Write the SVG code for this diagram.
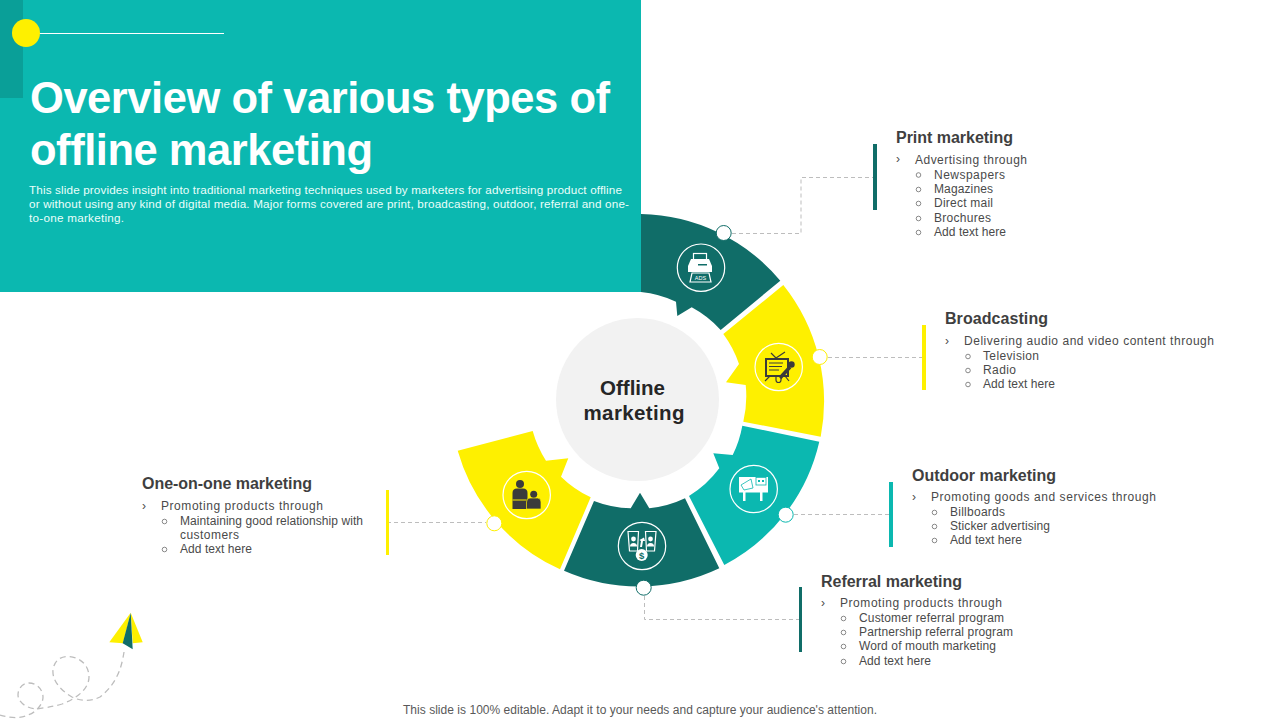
<svg xmlns="http://www.w3.org/2000/svg" width="1280" height="720" viewBox="0 0 1280 720">
<style>
text{font-family:"Liberation Sans",Arial,sans-serif}
.h{font-size:16px;font-weight:700;fill:#3f3f3f}
.b{font-size:12px;fill:#4a4a4a}
.o{fill:none;stroke:#595959;stroke-width:.7}
.d{font-size:11.7px;fill:#eafffb}
.c{fill:none;stroke:#bdbdbd;stroke-width:1;stroke-dasharray:4 3}
.ring{fill:none;stroke:#fff;stroke-width:1.2}
.w{fill:#fff}.wl{fill:none;stroke:#fff;stroke-width:1.2}
.k{fill:#3b3b3b}.kl{fill:none;stroke:#3b3b3b;stroke-width:1.2}
</style>
<rect width="1280" height="720" fill="#fff"/>
<g id="wheel-segments">
<path d="M641 214.100A186.500 186.500 0 0 1 780.300 280.700L720.700 330A108 108 0 0 0 691.700 307.300L677.300 316L676 301.700A108 108 0 0 0 641 292Z" fill="#106d68"/>
<path d="M783.300 285A186.500 186.500 0 0 1 820.700 436.700L743.300 421.700A108 108 0 0 0 745.700 385L726 382.300L739 364A108 108 0 0 0 723.300 334Z" fill="#fef000"/>
<path d="M819.300 441.700A186.500 186.500 0 0 1 724.300 565L689 496A108 108 0 0 0 719.300 468.300L713.300 453.300L732.700 455A108 108 0 0 0 742.300 425.700Z" fill="#0bb8b0"/>
<path d="M719.300 568.300A186.500 186.500 0 0 1 564 570.700L594 501A108 108 0 0 0 630.700 508.300L640 492.700L649.300 508.300A108 108 0 0 0 685 498.300Z" fill="#106d68"/>
<path d="M560 569.300A186.500 186.500 0 0 1 457.700 450.700L532.700 431A108 108 0 0 0 546 460.700L568.300 458.300L561 476.700A108 108 0 0 0 590.700 497.300Z" fill="#fef000"/>
</g>
<g id="header">
<rect width="641" height="292" fill="#0bb8b0"/>
<rect width="23" height="98" fill="#0a9f98"/>
<line x1="32" y1="33.500" x2="224" y2="33.500" stroke="#fff" stroke-width="1"/>
<circle cx="26" cy="33" r="14" fill="#fef000"/>
<text x="30" y="113" font-size="43.500" font-weight="700" fill="#fff" textLength="580">Overview of various types of</text>
<text x="30" y="165" font-size="43.500" font-weight="700" fill="#fff" textLength="343">offline marketing</text>
<text class="d" x="29" y="194" textLength="593">This slide provides insight into traditional marketing techniques used by marketers for advertising product offline</text>
<text class="d" x="29" y="208" textLength="600">or without using any kind of digital media. Major forms covered are print, broadcasting, outdoor, referral and one-</text>
<text class="d" x="29" y="222" textLength="95">to-one marketing.</text>
</g>
<g id="connectors">
<path class="c" d="M732 233.500H801V177.500H873"/>
<path class="c" d="M828 357.500H922"/>
<path class="c" d="M794 514.500H889"/>
<path class="c" d="M644.500 596V619.500H799"/>
<path class="c" d="M387 522.500H486"/>
</g>
<g id="center">
<circle cx="637.500" cy="399.500" r="81.500" fill="#f2f2f2"/>
<text x="632.500" y="395" font-size="20.500" font-weight="700" fill="#262626" text-anchor="middle">Offline</text>
<text x="583.500" y="420" font-size="20.500" font-weight="700" fill="#262626" textLength="101">marketing</text>
</g>
<g id="node-print">
<circle cx="723.700" cy="233" r="7.500" fill="#fff" stroke="#106d68" stroke-width="1"/>
<circle class="ring" cx="701" cy="267.700" r="23.700"/>
<rect class="wl" x="693.500" y="253.500" width="13" height="9"/>
<path class="w" d="M691 259H709L712 266V272H688V266Z"/>
<rect x="698" y="264" width="9" height="1.500" fill="#106d68"/>
<path class="wl" d="M692 273H709L711 282H690Z"/>
<text x="700.500" y="279.500" font-size="5.500" fill="#fff" text-anchor="middle">ADS</text>
<rect x="873" y="144" width="4" height="66" fill="#106d68"/>
<text class="h" x="896" y="143" textLength="117">Print marketing</text>
<text class="b" x="896" y="163">›</text><text class="b" x="915" y="164" textLength="112">Advertising through</text>
<circle class="o" cx="918.500" cy="175" r="2.300"/><text class="b" x="934" y="179" textLength="71">Newspapers</text>
<circle class="o" cx="918.500" cy="189.500" r="2.300"/><text class="b" x="934" y="193" textLength="59">Magazines</text>
<circle class="o" cx="918.500" cy="203.500" r="2.300"/><text class="b" x="934" y="207" textLength="59">Direct mail</text>
<circle class="o" cx="918.500" cy="218.500" r="2.300"/><text class="b" x="934" y="222" textLength="57">Brochures</text>
<circle class="o" cx="918.500" cy="232.500" r="2.300"/><text class="b" x="934" y="236" textLength="72">Add text here</text>
</g>
<g id="node-broadcasting">
<circle cx="819.700" cy="357" r="7.500" fill="#fff" stroke="#fef000" stroke-width="1"/>
<circle class="ring" cx="778.700" cy="367" r="23.700"/>
<rect x="766" y="359" width="22" height="17" fill="none" stroke="#3b3b3b" stroke-width="2"/>
<path class="kl" d="M769 363H783M769 366.500H782M769 370H779M776 358L771 353M776 358L785 352M770 376L765 381M785 376L789 381"/>
<path class="kl" d="M776 376V380A2.500 2.500 0 0 0 781 380V376" stroke="#d8c900"/>
<line x1="780" y1="378" x2="790" y2="367" stroke="#3b3b3b" stroke-width="3.500"/>
<circle cx="791.500" cy="364.500" r="3.200" class="k"/>
<rect x="922" y="325" width="4" height="65" fill="#fef000"/>
<text class="h" x="945" y="324" textLength="103">Broadcasting</text>
<text class="b" x="945" y="345">›</text><text class="b" x="964" y="345" textLength="250">Delivering audio and video content through</text>
<circle class="o" cx="968" cy="356.500" r="2.300"/><text class="b" x="983" y="360" textLength="56">Television</text>
<circle class="o" cx="968" cy="370.500" r="2.300"/><text class="b" x="983" y="374" textLength="33">Radio</text>
<circle class="o" cx="968" cy="384.500" r="2.300"/><text class="b" x="983" y="388" textLength="72">Add text here</text>
</g>
<g id="node-outdoor">
<circle cx="785.700" cy="514.700" r="7.500" fill="#fff" stroke="#0bb8b0" stroke-width="1"/>
<circle class="ring" cx="753.700" cy="489" r="23.700"/>
<rect class="w" x="739" y="477" width="29" height="15.500"/>
<rect x="743" y="492" width="2.500" height="9" class="w"/><rect x="760" y="492" width="2.500" height="9" class="w"/>
<path d="M741 485L751 479L753 488L744 490Z" fill="#fff" stroke="#0bb8b0" stroke-width=".8"/>
<rect x="756" y="477.500" width="10" height="7.500" fill="none" stroke="#0bb8b0" stroke-width=".8"/>
<rect x="758" y="480" width="2" height="2" fill="#0bb8b0"/><rect x="762" y="480" width="2" height="2" fill="#0bb8b0"/>
<rect x="889" y="482" width="4" height="65" fill="#0bb8b0"/>
<text class="h" x="912" y="481" textLength="144">Outdoor marketing</text>
<text class="b" x="912" y="501">›</text><text class="b" x="931" y="501" textLength="225">Promoting goods and services through</text>
<circle class="o" cx="934.500" cy="512.500" r="2.300"/><text class="b" x="950" y="516" textLength="55">Billboards</text>
<circle class="o" cx="934.500" cy="526.500" r="2.300"/><text class="b" x="950" y="530" textLength="100">Sticker advertising</text>
<circle class="o" cx="934.500" cy="540.500" r="2.300"/><text class="b" x="950" y="544" textLength="72">Add text here</text>
</g>
<g id="node-referral">
<circle cx="643.700" cy="587.700" r="7.500" fill="#fff" stroke="#106d68" stroke-width="1"/>
<circle class="ring" cx="642" cy="546" r="23.700"/>
<path class="wl" d="M628 531.500H638.500L637.500 551H629.500Z"/>
<path class="wl" d="M645.500 531.500H656L654.500 551H646.500Z"/>
<circle class="w" cx="633.500" cy="539" r="2.400"/><path class="w" d="M630 546.500A3.500 3.500 0 0 1 637 546.500Z"/>
<circle class="w" cx="650.500" cy="539" r="2.400"/><path class="w" d="M647 546.500A3.500 3.500 0 0 1 654 546.500Z"/>
<path class="w" d="M640 547L641 541L639.500 540L644 537.500L645 541L643 541L642 547Z"/>
<circle class="w" cx="641.700" cy="555" r="6"/>
<text x="641.700" y="558.500" font-size="9.500" font-weight="700" fill="#106d68" text-anchor="middle">$</text>
<rect x="799" y="587" width="3" height="65" fill="#106d68"/>
<text class="h" x="821" y="587" textLength="141">Referral marketing</text>
<text class="b" x="821" y="607">›</text><text class="b" x="840" y="607" textLength="162">Promoting products through</text>
<circle class="o" cx="843.500" cy="618.500" r="2.300"/><text class="b" x="859" y="622" textLength="145">Customer referral program</text>
<circle class="o" cx="843.500" cy="632.500" r="2.300"/><text class="b" x="859" y="636" textLength="154">Partnership referral program</text>
<circle class="o" cx="843.500" cy="646.500" r="2.300"/><text class="b" x="859" y="650" textLength="137">Word of mouth marketing</text>
<circle class="o" cx="843.500" cy="661.500" r="2.300"/><text class="b" x="859" y="665" textLength="72">Add text here</text>
</g>
<g id="node-one-on-one">
<circle cx="494.300" cy="523.300" r="7.500" fill="#fff" stroke="#fef000" stroke-width="1"/>
<circle class="ring" cx="526.700" cy="495" r="23.700"/>
<circle class="k" cx="520" cy="484" r="4"/>
<path class="k" d="M512.500 509V493Q512.500 488.500 517 488.500H523Q527.500 488.500 527.500 493V509Z"/>
<path class="k" d="M526.500 509V502Q526.500 498 530 498H537.500Q541 498 541 502V509Z" stroke="#fef000" stroke-width=".7"/>
<circle class="k" cx="533.700" cy="494.300" r="3.500"/>
<line x1="512.500" y1="500" x2="526.500" y2="500" stroke="#fef000" stroke-width="1"/>
<rect x="386" y="490" width="3" height="65" fill="#fef000"/>
<text class="h" x="142" y="489" textLength="170">One-on-one marketing</text>
<text class="b" x="142" y="510">›</text><text class="b" x="161" y="510" textLength="162">Promoting products through</text>
<circle class="o" cx="164.500" cy="521.500" r="2.300"/><text class="b" x="180" y="525" textLength="183">Maintaining good relationship with</text>
<text class="b" x="180" y="539" textLength="59">customers</text>
<circle class="o" cx="164.500" cy="549.500" r="2.300"/><text class="b" x="180" y="553" textLength="72">Add text here</text>
</g>
<g id="paper-plane">
<path d="M124 652C122 665 118 683 100 697C90 702 80 701 72 697C60 690 52 680 53 670C54 660 62 656 68 656.500C80 657 89 665 89 677C89 688 78 698 62 704C52 707 43 708 36 709C26 708 18 702 18 695C18 688 23 683 29 683C37 683 43 690 43 697C43 705 35 713 28 715C20 719 10 718 0 715" fill="none" stroke="#bdbdbd" stroke-width="1.300" stroke-dasharray="6 4"/>
<path d="M130.700 612.700L109.300 642.300L123 643.300Z" fill="#fef000"/>
<path d="M130.700 612.700L142.700 642.300L132.700 643.300Z" fill="#fef000"/>
<path d="M130.700 612.700L122.700 643.300L132.700 649.300Z" fill="#106d68"/>
</g>
<text id="footer" x="403" y="714" font-size="12" fill="#595959" textLength="474">This slide is 100% editable. Adapt it to your needs and capture your audience's attention.</text>
</svg>
